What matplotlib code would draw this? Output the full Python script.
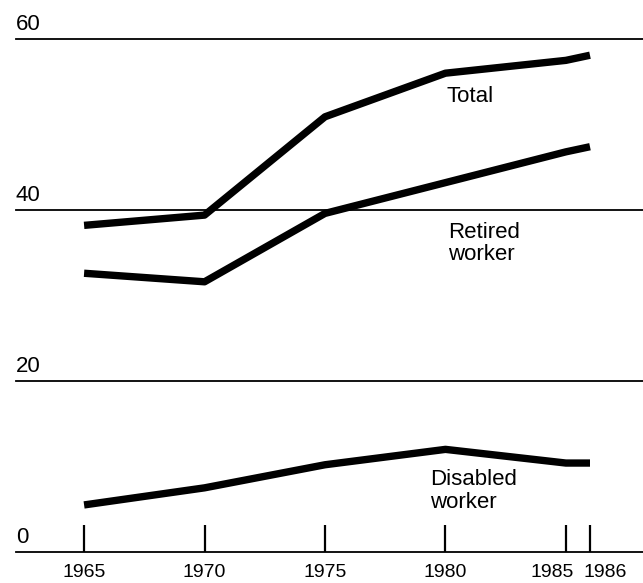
import matplotlib.pyplot as plt

# Data
years = [1965, 1970, 1975, 1980, 1985, 1986]
total = [38.2, 39.4, 50.9, 56.0, 57.5, 58.1]
retired = [32.6, 31.6, 39.6, 43.2, 46.8, 47.4]
disabled = [5.5, 7.5, 10.2, 12.0, 10.4, 10.4]
y_levels = [0, 20, 40, 60]
tick_labels = ['1965', '1970', '1975', '1980', '1985', '1986']

plt.rcParams['font.family'] = ['Liberation Sans', 'DejaVu Sans']

fig = plt.figure(figsize=(6.43, 5.83), dpi=100)
ax = fig.add_axes([0, 0, 1, 1])
ax.set_xlim(1961.51, 1988.2)
ax.set_ylim(-3.63, 64.56)
ax.axis('off')

# horizontal reference lines with their labels
for lv in y_levels:
    ax.axhline(lv, xmin=0.025, xmax=1.0, color='black', linewidth=1.3, zorder=1)
    ax.text(1962.17, lv + 1.7, str(lv), fontsize=16, ha='left', va='center')

# tick marks and year labels on the base line
ax.vlines(years, 0, 3.2, color='black', linewidth=1.6)
# 1985 and 1986 sit close together, so push their labels apart
label_ha = ['center', 'center', 'center', 'center', 'right', 'left']
label_dx = [0, 0, 0, 0, 0.35, -0.25]
for yr, lab, ha, dx in zip(years, tick_labels, label_ha, label_dx):
    ax.text(yr + dx, -2.45, lab, fontsize=14, ha=ha, va='center')

# series
for vals in (total, retired, disabled):
    ax.plot(years, vals, color='black', linewidth=5.3, solid_capstyle='butt',
            solid_joinstyle='round', zorder=3)

ax.text(1980.05, 53.3, 'Total', fontsize=16, ha='left', va='center')
ax.text(1980.1, 36.1, 'Retired\nworker', fontsize=16, ha='left', va='center',
        linespacing=1.1)
ax.text(1979.35, 7.1, 'Disabled\nworker', fontsize=16, ha='left', va='center',
        linespacing=1.1)

fig.savefig('out.png', dpi=100)
